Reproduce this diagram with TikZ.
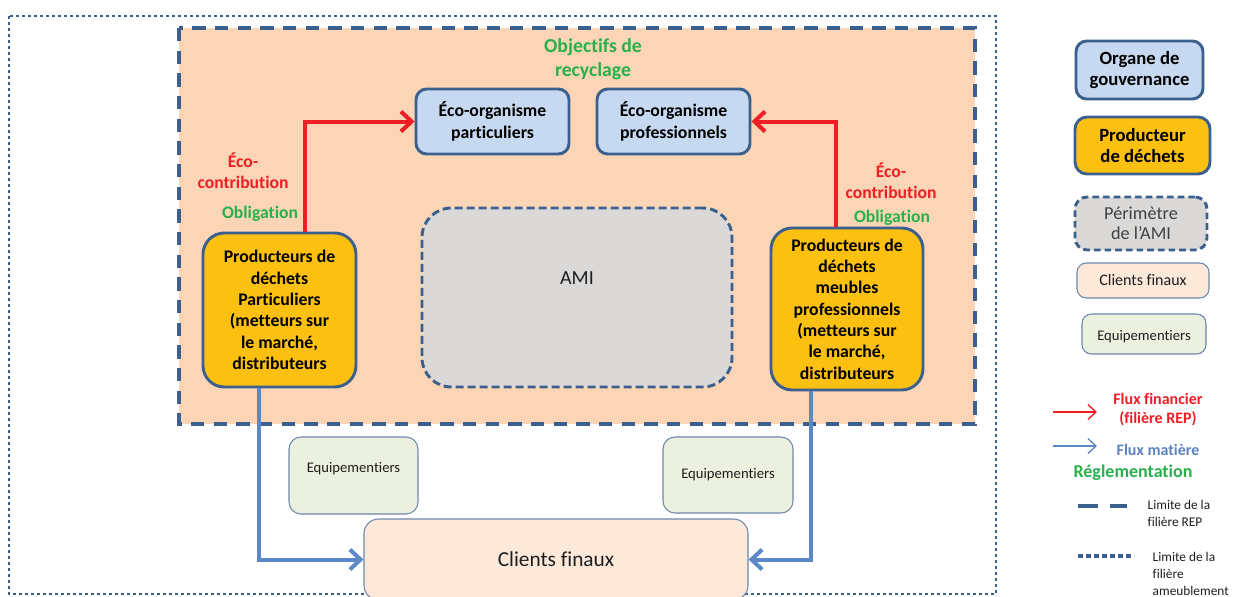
\documentclass[tikz,border=0pt]{standalone}
\usepackage{fontspec}
\setmainfont{Carlito}[Ligatures=NoCommon]
\usetikzlibrary{arrows.meta}
\definecolor{bordblue}{RGB}{60,96,142}
\definecolor{peach}{RGB}{251,213,181}
\definecolor{govfill}{RGB}{198,217,241}
\definecolor{gold}{RGB}{252,192,16}
\definecolor{amigray}{RGB}{218,217,216}
\definecolor{eqfill}{RGB}{235,241,222}
\definecolor{cffill}{RGB}{253,233,217}
\definecolor{thinb}{RGB}{110,135,170}
\definecolor{redc}{RGB}{238,30,36}
\definecolor{greenc}{RGB}{40,176,76}
\definecolor{bluec}{RGB}{91,137,200}
\definecolor{bluetext}{RGB}{92,130,194}
\definecolor{darkt}{RGB}{30,30,30}
\newcommand\pxu{0.75pt}
\tikzset{
  box/.style={draw=bordblue, line width=2.2pt, align=center, inner sep=2pt},
  gov/.style={box, fill=govfill, rounded corners=8pt, font=\fontsize{13.3}{16}\selectfont\bfseries},
  prod/.style={box, fill=gold, rounded corners=16pt, font=\fontsize{13.3}{16}\selectfont\bfseries},
  amibox/.style={draw=bordblue, line width=2.2pt, fill=amigray, rounded corners=22pt, dash pattern=on 6pt off 3pt, align=center},
  eqbox/.style={draw=thinb, line width=0.8pt, fill=eqfill, rounded corners=9pt, align=center, text=darkt, font=\fontsize{11}{13}\selectfont},
  cfbox/.style={draw=thinb, line width=0.8pt, fill=cffill, rounded corners=11pt, align=center, text=darkt},
  redlbl/.style={text=redc, font=\fontsize{13.2}{16}\selectfont\bfseries, align=center},
  greenlbl/.style={text=greenc, font=\fontsize{13.2}{16}\selectfont\bfseries, align=center},
  redarr/.style={draw=redc, line width=3pt, -{Straight Barb[length=8pt,width=15pt]}},
  bluearr/.style={draw=bluec, line width=3pt, -{Straight Barb[length=8pt,width=15pt]}},
  repline/.style={draw=bordblue, line width=3pt, dash pattern=on 10pt off 7pt},
  ameuline/.style={draw=bordblue, line width=2.2pt, dash pattern=on 2.2pt off 2.3pt},
  legtxt/.style={text=darkt, font=\fontsize{10}{12.75}\selectfont, align=left}
}
\begin{document}
\begin{tikzpicture}[x=0.75pt, y=-0.75pt]
\useasboundingbox (0,0) rectangle (1241,596);
% outer dotted limit (ameublement)
\draw[ameuline] (9,16) rectangle (996,594);
% REP area
\draw[repline, fill=peach] (179,28) rectangle (975,424);

\node[greenlbl, font=\fontsize{14.8}{18}\selectfont\bfseries] (obj) at (593,59) {Objectifs de\\recyclage};

\node[gov, minimum width=153*\pxu, minimum height=65*\pxu] (eopart) at (492.5,121.5) {Éco-organisme\\particuliers};
\node[gov, minimum width=153*\pxu, minimum height=65*\pxu] (eopro) at (673.5,121.5) {Éco-organisme\\professionnels};

\node[prod, minimum width=153*\pxu, minimum height=154*\pxu] (lp) at (279.5,310) {Producteurs de\\déchets\\Particuliers\\(metteurs sur\\le marché,\\distributeurs};
\node[prod, minimum width=152*\pxu, minimum height=162*\pxu] (rp) at (847,309) {Producteurs de\\déchets\\meubles\\professionnels\\(metteurs sur\\le marché,\\distributeurs};

\node[amibox, minimum width=310*\pxu, minimum height=179*\pxu, text height=10pt, text depth=28.8pt, font=\fontsize{15}{18}\selectfont, text=darkt] (ami) at (577,297.5) {AMI};

\node[redlbl] (ecL) at (243,170.5) {Éco-\\contribution};
\node[greenlbl] (obL) at (260,214) {Obligation};
\node[redlbl] (ecR) at (891,181) {Éco-\\contribution};
\node[greenlbl] (obR) at (892,218) {Obligation};

\node[eqbox, minimum width=129*\pxu, minimum height=77*\pxu, text height=7pt, text depth=11pt] (eqL) at (353.5,475.5) {Equipementiers};
\node[eqbox, minimum width=130*\pxu, minimum height=76*\pxu] (eqR) at (728,475) {Equipementiers};
\node[cfbox, minimum width=384*\pxu, minimum height=81*\pxu, font=\fontsize{16}{19}\selectfont] (cf) at (556,559.5) {Clients finaux};

% connector anchors
\coordinate (xrl) at (305,0);
\coordinate (xrr) at (836,0);
\coordinate (xbl) at (259,0);
\coordinate (xbr) at (811,0);
\draw[redarr] (lp.north -| xrl) |- (eopart.west);
\draw[redarr] (rp.north -| xrr) |- (eopro.east);
\draw[bluearr] (lp.south -| xbl) |- (cf.west);
\draw[bluearr] (rp.south -| xbr) |- (cf.east);

% legend
\node[gov, font=\fontsize{14}{16}\selectfont\bfseries, minimum width=127*\pxu, minimum height=58*\pxu] (lg1) at (1139.5,70) {Organe de\\gouvernance};
\node[prod, font=\fontsize{14}{16}\selectfont\bfseries, rounded corners=9pt, minimum width=135*\pxu, minimum height=57*\pxu] (lg2) at (1142.5,145.5) {Producteur\\de déchets};
\node[amibox, rounded corners=9pt, dash pattern=on 5pt off 3pt, minimum width=132*\pxu, minimum height=53*\pxu, font=\fontsize{13.7}{15}\selectfont, text={rgb,255:red,64;green,64;blue,64}] (lg3) at (1141,223.5) {Périmètre\\de l’AMI};
\node[cfbox, rounded corners=7pt, minimum width=132*\pxu, minimum height=35*\pxu, font=\fontsize{12}{13}\selectfont] (lg4) at (1143,280.5) {Clients finaux};
\node[eqbox, rounded corners=7pt, minimum width=124*\pxu, minimum height=40*\pxu, text height=9pt, text depth=0pt] (lg5) at (1144,334) {Equipementiers};

\coordinate (ra1) at (1053,412);
\coordinate (ra2) at (1097,412);
\draw[draw=redc, line width=1pt, -{Straight Barb[length=6pt,width=11pt]}] (ra1) -- (ra2);
\node[text=redc, font=\fontsize{12}{14}\selectfont\bfseries, align=center] (lfin) at (1158,409.5) {Flux financier\\(filière REP)};

\coordinate (ba1) at (1053,446);
\coordinate (ba2) at (1097,446);
\draw[draw=bluec, line width=1pt, -{Straight Barb[length=6pt,width=11pt]}] (ba1) -- (ba2);
\node[text=bluetext, font=\fontsize{12}{14}\selectfont\bfseries] (lmat) at (1158,450) {Flux matière};

\node[text=greenc, font=\fontsize{13.5}{15}\selectfont\bfseries] (lreg) at (1133,473) {Réglementation};

\coordinate (da1) at (1078,506);
\coordinate (da2) at (1127,506);
\draw[draw=bordblue, line width=3pt, dash pattern=on 15pt off 9pt] (da1) -- (da2);
\node[legtxt, anchor=west] (lrep) at (1143,513.5) {Limite de la\\filière REP};

\coordinate (do1) at (1078,556);
\coordinate (do2) at (1134,556);
\draw[draw=bordblue, line width=3pt, dash pattern=on 4pt off 2pt] (do1) -- (do2);
\node[legtxt, anchor=west] (lameu) at (1148,574) {Limite de la\\filière\\ameublement};
\end{tikzpicture}
\end{document}
